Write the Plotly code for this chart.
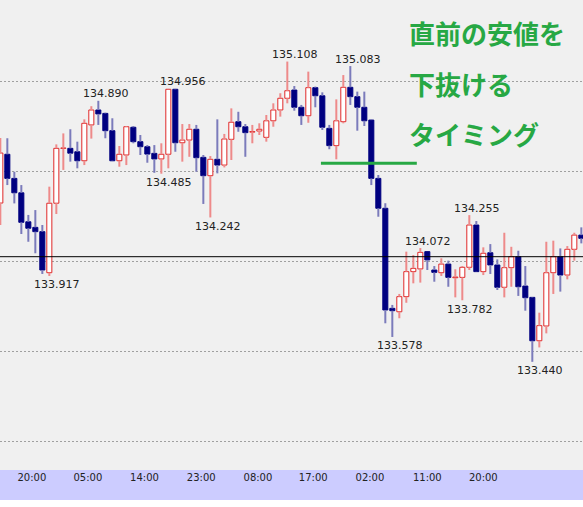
import plotly.graph_objects as go

# ---------------- data ----------------
opens = [134.322, 134.593, 134.459, 134.379, 134.218, 134.187, 134.163, 133.935, 134.321, 134.626,
         134.626, 134.607, 134.557, 134.756, 134.839, 134.820, 134.724, 134.557, 134.589, 134.743,
         134.663, 134.635, 134.598, 134.567, 134.593, 134.954, 134.657, 134.672, 134.732, 134.576,
         134.474, 134.565, 134.533, 134.676, 134.774, 134.746, 134.716, 134.722, 134.687, 134.779,
         134.839, 134.904, 134.950, 134.854, 134.807, 134.963, 134.918, 134.737, 134.641, 134.774,
         134.965, 134.913, 134.854, 134.783, 134.459, 134.293, 133.737, 133.718, 133.802, 133.941,
         133.956, 134.052, 133.950, 133.935, 133.983, 133.907, 133.909, 133.965, 134.200, 133.941,
         134.046, 133.978, 133.854, 133.963, 134.024, 133.861, 133.798, 133.557, 133.639, 133.935,
         134.024, 133.922, 134.065, 134.144]
highs = [134.683, 134.682, 134.496, 134.422, 134.256, 134.283, 134.200, 134.413, 134.648, 134.709,
         134.732, 134.663, 134.787, 134.860, 134.890, 134.824, 134.793, 134.639, 134.750, 134.750,
         134.700, 134.644, 134.644, 134.654, 134.956, 134.956, 134.761, 134.761, 134.756, 134.589,
         134.583, 134.787, 134.706, 134.848, 134.829, 134.761, 134.756, 134.765, 134.811, 134.876,
         134.932, 135.108, 134.972, 134.867, 135.052, 134.969, 134.937, 134.756, 134.898, 135.033,
         135.083, 134.941, 134.941, 134.787, 134.478, 134.321, 133.756, 133.817, 134.052, 134.033,
         134.072, 134.052, 133.972, 134.015, 134.002, 133.954, 133.972, 134.255, 134.222, 134.076,
         134.094, 134.009, 134.157, 134.079, 134.057, 133.972, 133.800, 133.713, 134.107, 134.113,
         134.070, 134.083, 134.157, 134.187]
lows = [134.200, 134.422, 134.320, 134.150, 134.107, 134.043, 133.928, 133.917, 134.261, 134.506,
        134.552, 134.515, 134.533, 134.680, 134.756, 134.682, 134.555, 134.524, 134.533, 134.654,
        134.589, 134.546, 134.490, 134.485, 134.515, 134.607, 134.552, 134.579, 134.496, 134.317,
        134.242, 134.487, 134.520, 134.561, 134.718, 134.579, 134.654, 134.700, 134.663, 134.746,
        134.802, 134.876, 134.835, 134.756, 134.768, 134.854, 134.728, 134.621, 134.565, 134.765,
        134.867, 134.724, 134.750, 134.422, 134.246, 133.654, 133.578, 133.682, 133.768, 133.876,
        133.880, 133.950, 133.885, 133.917, 133.857, 133.798, 133.782, 133.950, 133.940, 133.922,
        133.928, 133.839, 133.798, 133.857, 133.806, 133.724, 133.440, 133.520, 133.598, 133.817,
        133.830, 133.898, 134.002, 134.098]
closes = [134.600, 134.459, 134.379, 134.215, 134.182, 134.163, 133.950, 134.321, 134.626, 134.628,
          134.599, 134.557, 134.765, 134.839, 134.817, 134.724, 134.557, 134.593, 134.746, 134.663,
          134.635, 134.594, 134.567, 134.593, 134.954, 134.657, 134.672, 134.732, 134.574, 134.474,
          134.565, 134.533, 134.678, 134.771, 134.746, 134.713, 134.719, 134.732, 134.779, 134.839,
          134.904, 134.946, 134.854, 134.807, 134.963, 134.918, 134.743, 134.641, 134.779, 134.965,
          134.913, 134.854, 134.779, 134.459, 134.293, 133.728, 133.724, 133.802, 133.941, 133.959,
          134.048, 134.006, 133.937, 133.983, 133.909, 133.911, 133.965, 134.200, 133.941, 134.043,
          133.978, 133.854, 133.963, 134.024, 133.857, 133.796, 133.557, 133.641, 133.935, 134.024,
          133.922, 134.065, 134.144, 134.126]

tick_positions = [4.5, 12.5, 20.6, 28.7, 36.8, 44.7, 52.8, 61.0, 69.0]
tick_labels = ["20:00", "05:00", "14:00", "23:00", "08:00", "17:00", "02:00", "11:00", "20:00"]

# labelled extremes: (candle index, "high"/"low")
marked_extremes = [(14, "high"), (7, "low"), (25, "high"), (23, "low"), (30, "low"),
                   (41, "high"), (50, "high"), (60, "high"), (56, "low"), (67, "high"),
                   (66, "low"), (76, "low")]

current_price = 134.024
green_level = 134.543
green_from, green_to = 45.8, 59.5

caption_lines = ["直前の安値を", "下抜ける", "タイミング"]

# ---------------- styles ----------------
BULL_EDGE = "#e02828"
BULL_WICK = "#ee8a8a"
BEAR_FILL = "#000080"
BEAR_WICK = "#7b7bbb"
GREEN = "#27a844"

idx = list(range(len(opens)))
bull = [i for i in idx if closes[i] >= opens[i]]
bear = [i for i in idx if closes[i] < opens[i]]

def wick_xy(ids):
    xs, ys = [], []
    for i in ids:
        top = max(opens[i], closes[i])
        bot = min(opens[i], closes[i])
        xs += [i, i, None, i, i, None]
        ys += [highs[i], top, None, bot, lows[i], None]
    return xs, ys

def body(ids):
    base = [min(opens[i], closes[i]) for i in ids]
    h = [max(abs(closes[i] - opens[i]), 0.0008) for i in ids]
    return base, h

fig = go.Figure()

bb, bh = body(bull)
fig.add_trace(go.Bar(x=bull, y=bh, base=bb, width=0.72,
                     marker=dict(color="#ffffff", line=dict(color=BULL_EDGE, width=1)),
                     hoverinfo="skip"))
eb, eh = body(bear)
fig.add_trace(go.Bar(x=bear, y=eh, base=eb, width=0.72,
                     marker=dict(color=BEAR_FILL, line=dict(color=BEAR_FILL, width=1)),
                     hoverinfo="skip"))

wx, wy = wick_xy(bull)
fig.add_trace(go.Scatter(x=wx, y=wy, mode="lines", line=dict(color=BULL_WICK, width=2),
                         hoverinfo="skip"))
wx, wy = wick_xy(bear)
fig.add_trace(go.Scatter(x=wx, y=wy, mode="lines", line=dict(color=BEAR_WICK, width=2),
                         hoverinfo="skip"))

annotations = []
for i, kind in marked_extremes:
    val = highs[i] if kind == "high" else lows[i]
    annotations.append(dict(x=i, y=val, xref="x", yref="y", text=f"{val:.3f}",
                            showarrow=False, xanchor="center", yanchor="middle",
                            xshift=8, yshift=7 if kind == "high" else -9,
                            font=dict(family="DejaVu Sans", size=11, color="#222222")))

cap_y = [0.93, 0.823, 0.717]
for line, yy in zip(caption_lines, cap_y):
    annotations.append(dict(x=0.698, y=yy, xref="paper", yref="paper", text=line,
                            showarrow=False, xanchor="left", yanchor="middle",
                            font=dict(family="Noto Sans CJK JP", size=26, color=GREEN,
                                      weight=700)))

shapes = [
    dict(type="rect", xref="paper", yref="paper", x0=0, x1=1, y0=-30 / 470, y1=0,
         fillcolor="#ccccff", line=dict(width=0), layer="below"),
    dict(type="line", xref="paper", yref="y", x0=0, x1=1, y0=current_price, y1=current_price,
         line=dict(color="#000000", width=1)),
    dict(type="line", xref="x", yref="y", x0=green_from, x1=green_to, y0=green_level,
         y1=green_level, line=dict(color=GREEN, width=3)),
]

fig.update_layout(
    width=583, height=507,
    margin=dict(l=0, r=0, t=0, b=37),
    paper_bgcolor="#ffffff",
    plot_bgcolor="#f0f0f0",
    barmode="overlay",
    showlegend=False,
    annotations=annotations,
    shapes=shapes,
    xaxis=dict(range=[-0.047, 83.24], showgrid=False, zeroline=False, showline=False,
               tickvals=tick_positions, ticktext=tick_labels, ticks="",
               tickfont=dict(family="DejaVu Sans", size=10, color="#222222"),
               fixedrange=True),
    yaxis=dict(range=[132.839, 135.45], showticklabels=False, zeroline=False,
               showline=False, tick0=0, dtick=0.5, showgrid=True,
               gridcolor="#a0a0a0", gridwidth=1, griddash="2px,2px", ticks="",
               fixedrange=True),
)

fig.write_html("out.html", config={"displayModeBar": False},
               post_script="document.body.style.margin='0';document.body.style.padding='0';"
                           "document.documentElement.style.overflow='hidden';")
